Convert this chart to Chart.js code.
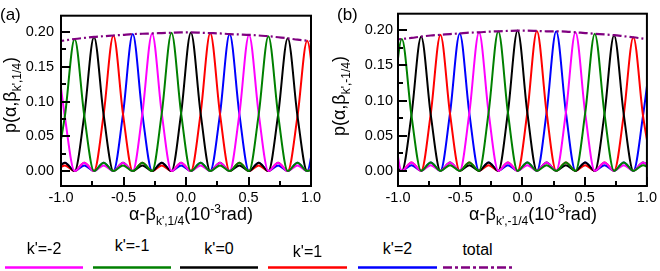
<!DOCTYPE html>
<html>
<head>
<meta charset="utf-8">
<script src="https://cdn.jsdelivr.net/npm/chart.js@4.4.1/dist/chart.umd.min.js"></script>
<style>
  body { margin: 0; background: #fff; }
  #wrap { position: relative; width: 660px; height: 271px; overflow: hidden;
          font-family: "Liberation Sans", Arial, sans-serif; color: #000; }
  canvas { position: absolute; top: 0; }
  .txt { position: absolute; font-size: 16px; line-height: 18px; white-space: nowrap; }
  .big { font-size: 18px; line-height: 20px; }
  .sub { font-size: 12px; position: relative; top: 5px; }
  .sup { font-size: 12px; position: relative; top: -7px; }
  .rot { transform: translate(-50%, -50%) rotate(-90deg); }
  .ctr { transform: translateX(-50%); }
</style>
</head>
<body>
<div id="wrap">
  <canvas id="chartA" width="330" height="230" style="left:0px"></canvas>
  <canvas id="chartB" width="330" height="230" style="left:330px"></canvas>

  <div class="txt" style="left:0px;top:6px;font-size:17px">(a)</div>
  <div class="txt" style="left:337px;top:6px;font-size:17px">(b)</div>

  <div class="txt big rot" style="left:11px;top:95px">p(α,β<span class="sub">k',1/4</span>)</div>
  <div class="txt big rot" style="left:340px;top:96px">p(α,β<span class="sub">k',-1/4</span>)</div>

  <div class="txt big ctr" style="left:191px;top:204px">α-β<span class="sub">k',1/4</span>(10<span class="sup">-3</span>rad)</div>
  <div class="txt big ctr" style="left:533px;top:204px">α-β<span class="sub">k',-1/4</span>(10<span class="sup">-3</span>rad)</div>

  <div id="legend"></div>
  <svg id="legendLines" width="660" height="271" style="position:absolute;left:0;top:0"></svg>
</div>

<script>
// x positions of the points (half the peak spacing apart)
const gridA = [-1.046, -0.969, -0.891, -0.814, -0.736, -0.659, -0.581, -0.504, -0.426, -0.349, -0.271, -0.194, -0.116, -0.039,
               0.039, 0.117, 0.194, 0.272, 0.349, 0.427, 0.504, 0.582, 0.659, 0.737, 0.814, 0.892, 0.969, 1.047];
const gridB = [-1.047, -0.969, -0.892, -0.814, -0.737, -0.659, -0.582, -0.504, -0.427, -0.349, -0.272, -0.194, -0.117, -0.039,
               0.039, 0.116, 0.194, 0.271, 0.349, 0.426, 0.504, 0.581, 0.659, 0.736, 0.814, 0.891, 0.969, 1.046];

// panel (a)
const kM2A = [0.186, 0.078, 0, 0.012, 0, 0.008, 0, 0.012, 0, 0.083, 0.198, 0.083, 0, 0.012, 0, 0.008, 0, 0.012, 0, 0.082, 0.196, 0.082, 0, 0.012, 0, 0.008, 0, 0.012];
const kM1A = [0, 0.079, 0.190, 0.080, 0, 0.012, 0, 0.008, 0, 0.012, 0, 0.083, 0.199, 0.083, 0, 0.012, 0, 0.008, 0, 0.012, 0, 0.082, 0.194, 0.081, 0, 0.012, 0, 0.008];
const k0A  = [0, 0.012, 0, 0.080, 0.193, 0.081, 0, 0.012, 0, 0.008, 0, 0.012, 0, 0.083, 0.1995, 0.083, 0, 0.012, 0, 0.008, 0, 0.012, 0, 0.081, 0.191, 0.079, 0, 0.012];
const kP1A = [0, 0.008, 0, 0.012, 0, 0.081, 0.195, 0.082, 0, 0.012, 0, 0.008, 0, 0.012, 0, 0.083, 0.1985, 0.082, 0, 0.012, 0, 0.008, 0, 0.012, 0, 0.079, 0.1875, 0.078];
const kP2A = [0, 0.012, 0, 0.008, 0, 0.012, 0, 0.082, 0.197, 0.082, 0, 0.012, 0, 0.008, 0, 0.012, 0, 0.082, 0.197, 0.082, 0, 0.012, 0, 0.008, 0, 0.012, 0, 0.078];
const totalA = [0.186, 0.188, 0.190, 0.1915, 0.193, 0.194, 0.195, 0.196, 0.197, 0.1975, 0.198, 0.1985, 0.199, 0.1995,
                0.1995, 0.199, 0.1985, 0.198, 0.197, 0.1965, 0.196, 0.195, 0.194, 0.1925, 0.191, 0.189, 0.1875, 0.186];

// panel (b)
const kM2B = [0.078, 0, 0.012, 0, 0.008, 0, 0.012, 0, 0.082, 0.197, 0.083, 0, 0.012, 0, 0.008, 0, 0.012, 0, 0.083, 0.197, 0.082, 0, 0.012, 0, 0.008, 0, 0.012, 0];
const kM1B = [0.078, 0.1875, 0.079, 0, 0.012, 0, 0.008, 0, 0.012, 0, 0.083, 0.1985, 0.083, 0, 0.012, 0, 0.008, 0, 0.012, 0, 0.082, 0.195, 0.081, 0, 0.012, 0, 0.008, 0];
const k0B  = [0.012, 0, 0.079, 0.191, 0.080, 0, 0.012, 0, 0.008, 0, 0.012, 0, 0.083, 0.1995, 0.083, 0, 0.012, 0, 0.008, 0, 0.012, 0, 0.081, 0.193, 0.080, 0, 0.012, 0];
const kP1B = [0.008, 0, 0.012, 0, 0.081, 0.1935, 0.081, 0, 0.012, 0, 0.008, 0, 0.012, 0, 0.083, 0.199, 0.083, 0, 0.012, 0, 0.008, 0, 0.012, 0, 0.080, 0.190, 0.078, 0];
const kP2B = [0.012, 0, 0.008, 0, 0.012, 0, 0.082, 0.1955, 0.082, 0, 0.012, 0, 0.008, 0, 0.012, 0, 0.083, 0.1985, 0.083, 0, 0.012, 0, 0.008, 0, 0.012, 0, 0.079, 0.186];
const totalB = [0.186, 0.1875, 0.189, 0.191, 0.1925, 0.1935, 0.1945, 0.1955, 0.1965, 0.197, 0.198, 0.1985, 0.199, 0.1995,
                0.1995, 0.199, 0.1985, 0.1985, 0.198, 0.197, 0.196, 0.195, 0.194, 0.193, 0.1915, 0.190, 0.188, 0.186];

const seriesNames = ["k'=-2", "k'=-1", "k'=0", "k'=1", "k'=2", "total"];
const xTicks = [-1, -0.5, 0, 0.5, 1];
const xMinor = [-0.75, -0.25, 0.25, 0.75];
const yTicks = [0, 0.05, 0.1, 0.15, 0.2];
const yMinor = [0.025, 0.075, 0.125, 0.175];

const colors = ["#ff00ff", "#008000", "#000000", "#ff0000", "#0000ff", "#800080"];
const FONT = '"Liberation Sans", Arial, sans-serif';
Chart.defaults.font.family = FONT;
Chart.defaults.color = "#000";

// frame box + inward tick marks
const frameTicks = {
    id: "frameTicks",
    afterDraw(chart) {
        const { ctx, chartArea: a, scales: { x, y } } = chart;
        ctx.save();
        ctx.strokeStyle = "#000";
        ctx.lineWidth = 2;
        ctx.beginPath();
        xTicks.forEach(v => { const p = Math.round(x.getPixelForValue(v)); ctx.moveTo(p, a.bottom); ctx.lineTo(p, a.bottom - 9); });
        xMinor.forEach(v => { const p = Math.round(x.getPixelForValue(v)); ctx.moveTo(p, a.bottom); ctx.lineTo(p, a.bottom - 5); });
        yTicks.forEach(v => { const p = Math.round(y.getPixelForValue(v)); ctx.moveTo(a.left, p); ctx.lineTo(a.left + 9, p); });
        yMinor.forEach(v => { const p = Math.round(y.getPixelForValue(v)); ctx.moveTo(a.left, p); ctx.lineTo(a.left + 5, p); });
        ctx.stroke();
        ctx.strokeRect(a.left, a.top, a.right - a.left, a.bottom - a.top);
        ctx.restore();
    }
};

function buildChart(canvasId, grid, curves, total, axisWidth, padRight, labelGap) {
    const all = curves.concat([total]);
    const datasets = all.map((vals, i) => ({
        label: seriesNames[i],
        data: grid.map((x, j) => ({ x: x, y: vals[j] })),
        borderColor: colors[i],
        borderWidth: i === 5 ? 2.2 : 2,
        borderDash: i === 5 ? [9, 3, 2, 3] : [],
        pointRadius: 0,
        cubicInterpolationMode: "monotone",
        fill: false,
        order: [2, 1, 3, 4, 5, 0][i]
    }));

    return new Chart(document.getElementById(canvasId).getContext("2d"), {
        type: "line",
        data: { datasets },
        options: {
            responsive: false,
            animation: false,
            devicePixelRatio: 1,
            layout: { padding: { top: 1, right: padRight, left: 0, bottom: 0 } },
            plugins: { legend: { display: false }, tooltip: { enabled: false } },
            scales: {
                x: {
                    type: "linear",
                    min: -1, max: 1,
                    afterBuildTicks: s => { s.ticks = xTicks.map(v => ({ value: v })); },
                    afterFit: s => { s.height = 44; },
                    ticks: { callback: v => v.toFixed(1), font: { size: 14.5 }, padding: 3, maxRotation: 0, autoSkip: false },
                    grid: { display: false, drawTicks: false },
                    border: { display: false }
                },
                y: {
                    min: -0.0215, max: 0.2235,
                    afterBuildTicks: s => { s.ticks = yTicks.map(v => ({ value: v })); },
                    afterFit: s => { s.width = axisWidth; },
                    ticks: { callback: v => v.toFixed(2), font: { size: 14.5 }, padding: labelGap },
                    grid: { display: false, drawTicks: false },
                    border: { display: false }
                }
            }
        },
        plugins: [frameTicks]
    });
}

buildChart("chartA", gridA, [kM2A, kM1A, k0A, kP1A, kP2A], totalA, 61, 19, 7);
buildChart("chartB", gridB, [kM2B, kM1B, k0B, kP1B, kP2B], totalB, 68, 10, 5);

// legend along the bottom: label above a short line sample
const legendSpans = [[5, 83, 240], [93, 171, 237], [180, 258, 240], [268, 347, 243], [358, 437, 240], [443, 512, 241]];
const legend = document.getElementById("legend");
const svg = document.getElementById("legendLines");
seriesNames.forEach((name, i) => {
    const [x0, x1, ty] = legendSpans[i];
    const d = document.createElement("div");
    d.className = "txt ctr";
    d.style.left = ((x0 + x1) / 2) + "px";
    d.style.top = ty + "px";
    d.textContent = name;
    legend.appendChild(d);
    const ln = document.createElementNS("http://www.w3.org/2000/svg", "line");
    ln.setAttribute("x1", x0); ln.setAttribute("x2", x1);
    ln.setAttribute("y1", 267.5); ln.setAttribute("y2", 267.5);
    ln.setAttribute("stroke", colors[i]);
    ln.setAttribute("stroke-width", 2.5);
    if (i === 5) ln.setAttribute("stroke-dasharray", "9 3 3 3");
    svg.appendChild(ln);
});
</script>
</body>
</html>
